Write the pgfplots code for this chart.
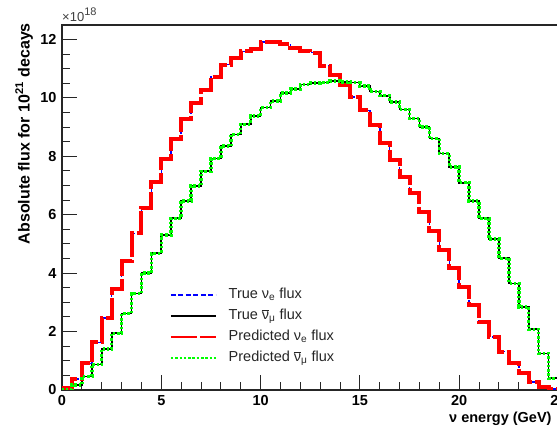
\documentclass[border=0pt]{standalone}
\usepackage{pgfplots}
\usepackage{pgfplotstable}
\pgfplotsset{compat=1.18}
\usepackage{fontspec}
\setmainfont{Liberation Sans}

\pgfplotstableread{
x nue numu
0 0 0
0 0.06 0.02
0.5 0.37 0.17
1 0.91 0.46
1.5 1.63 0.87
2 2.47 1.41
2.5 3.45 1.94
3 4.43 2.62
3.5 5.36 3.30
4 6.23 4.00
4.5 7.13 4.68
5 7.91 5.30
5.5 8.60 5.88
6 9.28 6.48
6.5 9.83 6.99
7 10.27 7.49
7.5 10.73 7.93
8 11.14 8.35
8.5 11.37 8.75
9 11.60 9.10
9.5 11.69 9.38
10 11.91 9.67
10.5 11.91 9.90
11 11.84 10.17
11.5 11.71 10.30
12 11.60 10.46
12.5 11.55 10.52
13 11.10 10.53
13.5 10.78 10.58
14 10.44 10.55
14.5 10.04 10.53
15 9.58 10.41
15.5 9.07 10.22
16 8.46 10.08
16.5 7.87 9.87
17 7.30 9.61
17.5 6.73 9.30
18 6.08 9.01
18.5 5.46 8.61
19 4.79 8.10
19.5 4.19 7.64
20 3.54 7.10
20.5 2.91 6.47
21 2.34 5.88
21.5 1.82 5.17
22 1.31 4.51
22.5 0.91 3.65
23 0.57 2.85
23.5 0.28 2.08
24 0.11 1.25
24.5 0.03 0.40
25 0.03 0.40
25 0 0
}\fluxdata

\begin{document}
\begin{tikzpicture}
\fill[white] (0pt,0pt) rectangle (557pt,428pt);
\begin{axis}[
  at={(62pt,38pt)}, anchor=south west,
  scale only axis, width=496.5pt, height=365pt,
  xmin=0, xmax=25, ymin=0, ymax=12.5,
  xtick={0,5,...,25}, minor x tick num=4,
  ytick={0,2,...,12}, minor y tick num=3,
  xtick pos=bottom, ytick pos=left,
  tick align=inside,
  major tick length=15pt, minor tick length=8pt,
  axis line style={line width=1.2pt, black!85},
  every tick/.style={line width=1pt, black!85},
  tick label style={font=\fontsize{14.5}{16}\selectfont\bfseries},
  /pgf/number format/assume math mode=true,
  xticklabel style={yshift=-2.3pt},
  yticklabel style={xshift=-2pt},
  legend cell align=left,
  legend image code/.code={\draw[#1,line width=1.5pt] (0pt,0pt) -- (45pt,0pt);},
  legend style={draw=none, fill=none, at={(axis description cs:0.2175,0.289)}, anchor=north west,
    inner sep=0pt, column sep=12pt, row sep=0pt,
    font=\fontsize{14.5}{16}\selectfont, text=black!85,
    nodes={inner xsep=0pt, inner ysep=2pt, text height=12pt, text depth=5pt}},
]
\addplot[const plot, blue, line width=1.5pt, dash pattern=on 5pt off 2.5pt] table[x=x,y=nue]{\fluxdata};
\addlegendentry{True ν\textsubscript{e} flux}
\addplot[const plot, black, line width=1.7pt] table[x=x,y=numu]{\fluxdata};
\addlegendentry{True $\overline{\mbox{ν}}$\textsubscript{μ} flux}
\addplot[const plot, red, line width=4pt, dash pattern=on 26pt off 3pt] table[x=x,y=nue]{\fluxdata};
\addlegendentry{Predicted ν\textsubscript{e} flux}
\addplot[const plot, green, line width=3.5pt, dash pattern=on 2.5pt off 1.8pt] table[x=x,y=numu]{\fluxdata};
\addlegendentry{Predicted $\overline{\mbox{ν}}$\textsubscript{μ} flux}
\end{axis}
\node[anchor=base west, text=black!75, inner sep=0pt] at (62pt,406pt)
  {\fontsize{13}{15}\selectfont ×10\raisebox{6.5pt}{\fontsize{11}{12}\selectfont 18}};
\node[rotate=90, anchor=base east, inner sep=0pt] at (29.5pt,405pt)
  {\fontsize{16}{18}\selectfont\bfseries Absolute flux for 10\textsuperscript{21} decays};
\node[anchor=base west, inner sep=0pt] at (449pt,5pt)
  {\fontsize{14.5}{16}\selectfont\bfseries ν energy (GeV)};
\pgfresetboundingbox
\useasboundingbox (0pt,0pt) rectangle (557pt,428pt);
\end{tikzpicture}
\end{document}
